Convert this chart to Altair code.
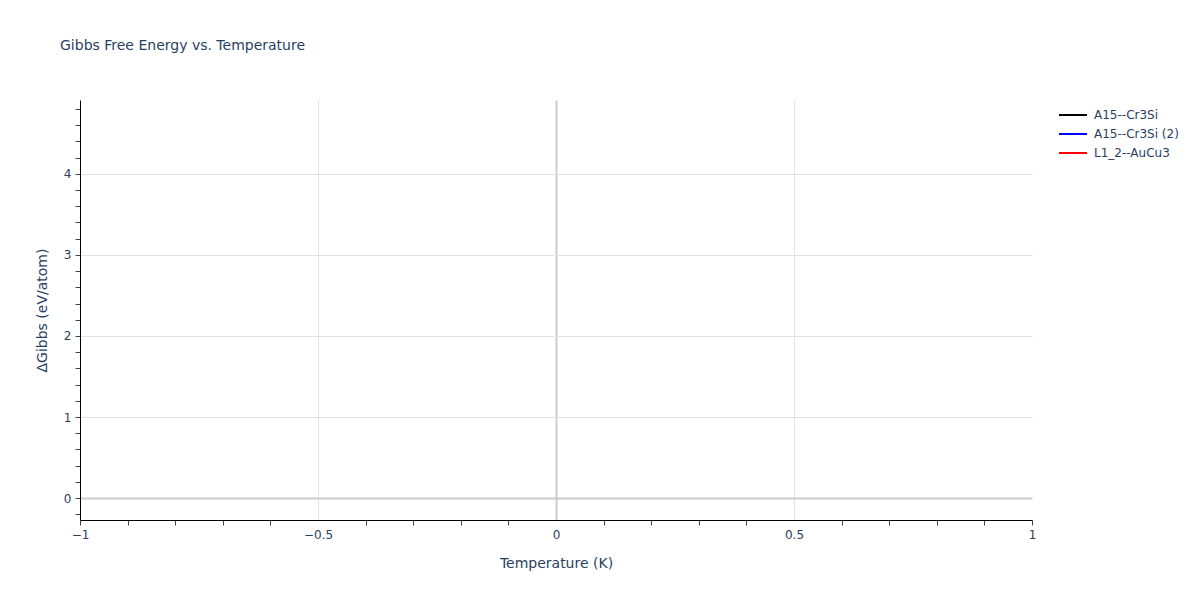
import altair as alt
import pandas as pd

# ---- data (series appear in legend only; no visible line data) ----
series = ["A15--Cr3Si", "A15--Cr3Si (2)", "L1_2--AuCu3"]
colors = ["black", "blue", "red"]
temperature = [0.0, 0.0, 0.0]
gibbs = [0.0, 0.0, 0.0]

x_domain = [-1, 1]
y_domain = [-0.27, 4.91]
x_ticks = [-1.0, -0.9, -0.8, -0.7, -0.6, -0.5, -0.4, -0.3, -0.2, -0.1, 0.0,
           0.1, 0.2, 0.3, 0.4, 0.5, 0.6, 0.7, 0.8, 0.9, 1.0]
y_ticks = [-0.2, 0.0, 0.2, 0.4, 0.6, 0.8, 1.0, 1.2, 1.4, 1.6, 1.8, 2.0, 2.2,
           2.4, 2.6, 2.8, 3.0, 3.2, 3.4, 3.6, 3.8, 4.0, 4.2, 4.4, 4.6, 4.8]

df = pd.DataFrame({"series": series, "T": temperature, "G": gibbs})

FONT = "DejaVu Sans"
TXT = "#2a3f5f"

x_major = "abs(datum.value*2 - round(datum.value*2)) < 0.001"
y_major = "abs(datum.value - round(datum.value)) < 0.001"

x_axis = alt.Axis(
    values=x_ticks,
    title="Temperature (K)",
    labelExpr=f"{x_major} ? format(datum.value, '~g') : ''",
    grid=True,
    gridColor={"condition": {"test": "datum.value === 0", "value": "#cccccc"}, "value": "#e2e2e2"},
    gridWidth={"condition": {"test": "datum.value === 0", "value": 2}, "value": 1},
    gridOpacity={"condition": {"test": f"{x_major} && abs(datum.value) < 0.99", "value": 1}, "value": 0},
    tickOpacity={"condition": {"test": f"{x_major} && abs(datum.value) < 0.99", "value": 0}, "value": 1},
    tickSize=5,
    tickColor="#444444",
    domainColor="black",
    labelFont=FONT, labelFontSize=12, labelColor=TXT, labelPadding=4,
    labelOverlap=False, labelFlush=False,
    titleFont=FONT, titleFontSize=14, titleColor=TXT, titleFontWeight="normal",
    titlePadding=16,
)

y_axis = alt.Axis(
    values=y_ticks,
    title="ΔGibbs (eV/atom)",
    labelExpr=f"{y_major} ? format(datum.value, 'd') : ''",
    grid=True,
    gridColor={"condition": {"test": "datum.value === 0", "value": "#cccccc"}, "value": "#e2e2e2"},
    gridWidth={"condition": {"test": "datum.value === 0", "value": 2}, "value": 1},
    gridOpacity={"condition": {"test": y_major, "value": 1}, "value": 0},
    tickSize=5,
    tickColor="#444444",
    domainColor="black",
    labelFont=FONT, labelFontSize=12, labelColor=TXT, labelPadding=4,
    labelOverlap=False, labelFlush=False,
    titleFont=FONT, titleFontSize=14, titleColor=TXT, titleFontWeight="normal",
    titlePadding=14,
)

chart = (
    alt.Chart(df)
    .mark_line(strokeWidth=2)
    .encode(
        x=alt.X("T:Q", scale=alt.Scale(domain=x_domain, nice=False, zero=False), axis=x_axis),
        y=alt.Y("G:Q", scale=alt.Scale(domain=y_domain, nice=False, zero=False), axis=y_axis),
        color=alt.Color(
            "series:N",
            scale=alt.Scale(domain=series, range=colors),
            legend=alt.Legend(
                title=None,
                orient="none",
                legendX=985,
                legendY=7,
                symbolType="M-2,0H2",
                symbolSize=196,
                symbolStrokeWidth=2,
                labelFont=FONT,
                labelFontSize=12,
                labelColor=TXT,
                labelOffset=13,
                rowPadding=5,
                padding=0,
            ),
        ),
    )
    .properties(
        width=952,
        height=420,
        autosize=alt.AutoSizeParams(type="none"),
        padding={"left": 72, "top": 92, "right": 160, "bottom": 72},
        title=alt.TitleParams(
            "Gibbs Free Energy vs. Temperature",
            anchor="start",
            frame="group",
            dx=-20,
            offset=47,
            font=FONT,
            fontSize=14,
            fontWeight="normal",
            color=TXT,
        ),
    )
    .configure_view(stroke=None)
)

chart.save("out.html", embed_options={"renderer": "svg", "actions": False})
